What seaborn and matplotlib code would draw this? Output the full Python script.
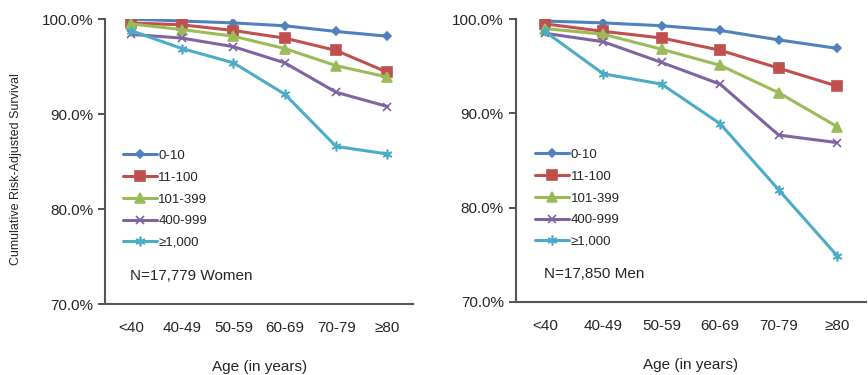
import matplotlib as mpl
import matplotlib.pyplot as plt
import numpy as np
import pandas as pd
import seaborn as sns

ages = ['<40', '40-49', '50-59', '60-69', '70-79', '≥80']
groups = ['0-10', '11-100', '101-399', '400-999', '≥1,000']

women_0_10 = [100.0, 99.8, 99.6, 99.3, 98.7, 98.2]
women_11_100 = [99.6, 99.4, 98.8, 98.0, 96.7, 94.4]
women_101_399 = [99.5, 98.9, 98.2, 96.9, 95.1, 93.9]
women_400_999 = [98.4, 98.0, 97.1, 95.4, 92.3, 90.8]
women_1000 = [98.8, 96.9, 95.4, 92.1, 86.6, 85.8]

men_0_10 = [99.8, 99.6, 99.3, 98.8, 97.8, 96.9]
men_11_100 = [99.5, 98.7, 98.0, 96.7, 94.8, 92.9]
men_101_399 = [99.0, 98.4, 96.8, 95.1, 92.2, 88.6]
men_400_999 = [98.5, 97.6, 95.4, 93.1, 87.7, 86.9]
men_1000 = [98.7, 94.2, 93.1, 88.9, 81.9, 74.9]

colors = ['#4F81BD', '#C0504D', '#9BBB59', '#8064A2', '#4BACC6']
markers = ['D', 's', '^', 'x', (6, 2, 0)]
msizes = [4, 7, 7, 6, 7]


def make_df(series):
    rows = []
    for g, vals in zip(groups, series):
        for a, v in zip(ages, vals):
            rows.append({'age': a, 'group': g, 'surv': v})
    return pd.DataFrame(rows)


df_w = make_df([women_0_10, women_11_100, women_101_399, women_400_999, women_1000])
df_m = make_df([men_0_10, men_11_100, men_101_399, men_400_999, men_1000])

sns.set_style('white')
plt.rcParams['font.family'] = ['Liberation Sans', 'DejaVu Sans']

fig = plt.figure(figsize=(8.68, 3.75), dpi=100)
ax1 = fig.add_axes([0.121, 0.189, 0.355, 0.76])
ax2 = fig.add_axes([0.594, 0.195, 0.404, 0.754])

for ax, df, note in [(ax1, df_w, 'N=17,779 Women'), (ax2, df_m, 'N=17,850 Men')]:
    for g, c, m, s in zip(groups, colors, markers, msizes):
        sub = df[df['group'] == g]
        sns.lineplot(data=sub, x='age', y='surv', ax=ax, color=c, marker=m,
                     markersize=s, linewidth=2.2, label=g, sort=False,
                     markeredgecolor=c, markeredgewidth=1.2)
    ax.set_ylim(70, 100)
    ax.set_xlim(-0.5, 5.5)
    ax.set_yticks([70, 80, 90, 100])
    ax.set_yticklabels(['70.0%', '80.0%', '90.0%', '100.0%'], fontsize=11)
    ax.set_xticks(range(6))
    ax.set_xticklabels(ages, fontsize=11)
    ax.set_xticks(np.arange(-0.5, 6, 1), minor=True)
    ax.tick_params(axis='x', which='major', length=0, pad=12)
    ax.tick_params(axis='x', which='minor', length=5, width=1.3, color='#444444', direction='out')
    ax.tick_params(axis='y', length=5, width=1.3, color='#444444', direction='out', left=True)
    for sp in ['top', 'right']:
        ax.spines[sp].set_visible(False)
    for sp in ['left', 'bottom']:
        ax.spines[sp].set_color('#555555')
        ax.spines[sp].set_linewidth(1.5)
    ax.set_xlabel('Age (in years)', fontsize=11, labelpad=18)
    ax.set_ylabel('')
    ax.legend(loc='upper left', bbox_to_anchor=(0.04, 0.56), frameon=False,
              fontsize=9.5, handlelength=2.6, handletextpad=0.1, labelspacing=0.72,
              borderaxespad=0)
    ax.text(0.08, 0.085, note, transform=ax.transAxes, fontsize=11)

fig.text(0.018, 0.55, 'Cumulative Risk-Adjusted Survival', rotation=90,
         fontsize=9, ha='center', va='center')

plt.savefig('out.png', dpi=100)
